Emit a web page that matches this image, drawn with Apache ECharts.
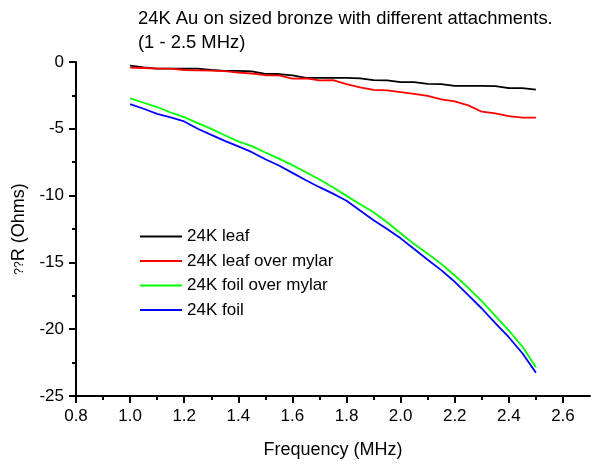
<!DOCTYPE html>
<html>
<head>
<meta charset="utf-8">
<script src="https://cdn.jsdelivr.net/npm/echarts@6/dist/echarts.min.js"></script>
<style>
  html, body { margin: 0; padding: 0; background: #fff; }
  #chart { width: 592px; height: 464px; }
</style>
</head>
<body>
<div id="chart"></div>
<script>
// Frequency sweep, MHz
const freq = [1.00, 1.05, 1.10, 1.15, 1.20, 1.25, 1.30, 1.35, 1.40, 1.45, 1.50,
              1.55, 1.60, 1.65, 1.70, 1.75, 1.80, 1.85, 1.90, 1.95, 2.00,
              2.05, 2.10, 2.15, 2.20, 2.25, 2.30, 2.35, 2.40, 2.45, 2.50];

// Change in resistance (Ohms) for each attachment
const leaf = [-0.27, -0.40, -0.49, -0.49, -0.49, -0.49, -0.60, -0.67, -0.67, -0.70, -0.89,
              -0.90, -1.00, -1.19, -1.19, -1.19, -1.19, -1.22, -1.36, -1.38, -1.51,
              -1.51, -1.63, -1.66, -1.78, -1.78, -1.79, -1.80, -1.96, -1.96, -2.06];
const leafMylar = [-0.42, -0.45, -0.49, -0.49, -0.60, -0.62, -0.64, -0.69, -0.80, -0.86, -0.99,
                   -1.00, -1.25, -1.22, -1.38, -1.35, -1.65, -1.90, -2.08, -2.12, -2.25,
                   -2.38, -2.53, -2.80, -2.95, -3.25, -3.72, -3.84, -4.05, -4.17, -4.17];
const foilMylar = [-2.72, -3.05, -3.37, -3.78, -4.13, -4.57, -5.01, -5.48, -5.94, -6.30, -6.77,
                   -7.23, -7.72, -8.25, -8.80, -9.38, -10.02, -10.64, -11.25, -11.99, -12.82,
                   -13.63, -14.35, -15.11, -15.98, -16.90, -17.90, -19.00, -20.10, -21.30, -22.85];
const foil = [-3.15, -3.50, -3.88, -4.15, -4.45, -5.00, -5.45, -5.90, -6.32, -6.75, -7.28,
              -7.75, -8.30, -8.85, -9.37, -9.85, -10.38, -11.12, -11.85, -12.50, -13.20,
              -14.00, -14.80, -15.58, -16.45, -17.45, -18.45, -19.55, -20.60, -21.80, -23.25];

const seriesNames = ['24K leaf', '24K leaf over mylar', '24K foil over mylar', '24K foil'];
const seriesColors = ['#000000', '#ff0000', '#00ff00', '#0000ff'];

// Axis ticks
const xMajorTicks = [0.8, 1.0, 1.2, 1.4, 1.6, 1.8, 2.0, 2.2, 2.4, 2.6];
const xMinorTicks = [0.9, 1.1, 1.3, 1.5, 1.7, 1.9, 2.1, 2.3, 2.5];

const FONT = '"Liberation Sans", Arial, sans-serif';
const pair = (ys) => freq.map((f, i) => [f, ys[i]]);
const values = [leaf, leafMylar, foilMylar, foil];

const chart = echarts.init(document.getElementById('chart'), null, { renderer: 'canvas' });

chart.setOption({
  animation: false,
  backgroundColor: '#ffffff',
  textStyle: { fontFamily: FONT },
  title: {
    text: '24K Au on sized bronze with different attachments.\n(1 - 2.5 MHz)',
    left: 133,
    top: 2,
    textStyle: { fontFamily: FONT, fontSize: 18.4, fontWeight: 'normal', color: '#000', lineHeight: 24 }
  },
  legend: {
    orient: 'vertical',
    left: 135,
    top: 223,
    itemWidth: 42,
    itemHeight: 2,
    itemGap: 7.5,
    icon: 'rect',
    textStyle: { fontFamily: FONT, fontSize: 17, color: '#000' },
    data: seriesNames
  },
  grid: { left: 76, right: 2, top: 62, bottom: 66, containLabel: false },
  xAxis: [
    {
      type: 'value',
      min: 0.8,
      max: 2.7,
      position: 'bottom',
      name: 'Frequency (MHz)',
      nameLocation: 'middle',
      nameGap: 45,
      nameTextStyle: { fontFamily: FONT, fontSize: 18, color: '#000' },
      axisLine: { show: true, onZero: false, lineStyle: { color: '#000', width: 2 } },
      axisTick: { show: true, inside: false, length: 7, customValues: xMajorTicks, lineStyle: { color: '#000', width: 2 } },
      axisLabel: {
        customValues: xMajorTicks,
        margin: 12,
        fontFamily: FONT, fontSize: 17, color: '#000',
        formatter: (v) => v.toFixed(1)
      },
      splitLine: { show: false }
    },
    {
      type: 'value',
      min: 0.8,
      max: 2.7,
      position: 'bottom',
      axisLine: { show: false, onZero: false },
      axisTick: { show: true, inside: false, length: 4, customValues: xMinorTicks, lineStyle: { color: '#000', width: 2 } },
      axisLabel: { show: false },
      splitLine: { show: false }
    }
  ],
  yAxis: {
    type: 'value',
    min: -25,
    max: 0,
    interval: 5,
    name: '{q|??}R (Ohms)',
    nameLocation: 'middle',
    nameGap: 45,
    nameTextStyle: {
      fontFamily: FONT, fontSize: 18, color: '#000',
      rich: { q: { fontFamily: FONT, fontSize: 12, color: '#000' } }
    },
    axisLine: { show: true, onZero: false, lineStyle: { color: '#000', width: 2 } },
    axisTick: { show: true, inside: false, length: 7, lineStyle: { color: '#000', width: 2 } },
    minorTick: { show: true, splitNumber: 2, length: 4, lineStyle: { color: '#000', width: 2 } },
    axisLabel: { margin: 12, fontFamily: FONT, fontSize: 17, color: '#000' },
    splitLine: { show: false },
    minorSplitLine: { show: false }
  },
  series: seriesNames.map((name, i) => ({
    name,
    type: 'line',
    xAxisIndex: 0,
    data: pair(values[i]),
    showSymbol: false,
    symbol: 'none',
    smooth: false,
    color: seriesColors[i],
    lineStyle: { color: seriesColors[i], width: 1.8 }
  }))
});
</script>
</body>
</html>
